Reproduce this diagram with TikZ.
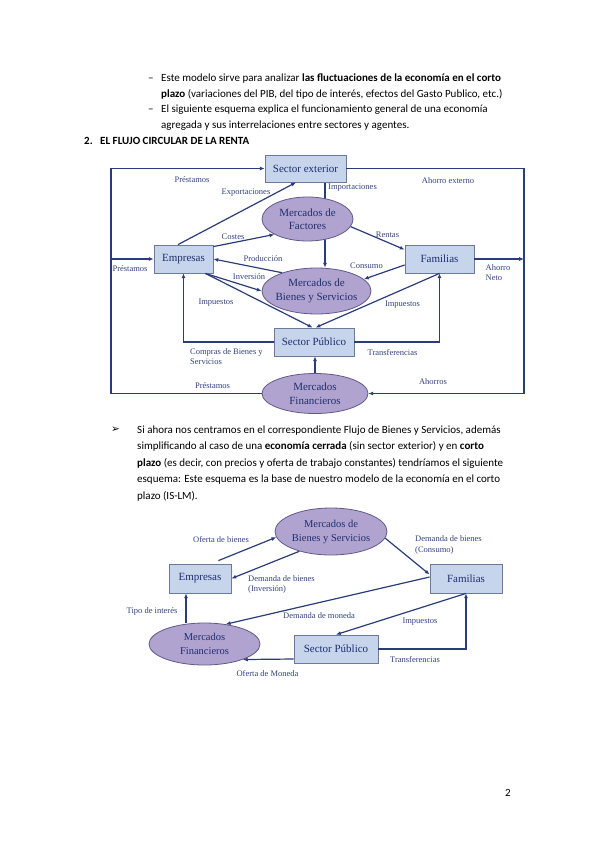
\documentclass[tikz,border=0pt]{standalone}
\usepackage{fontspec}
\setmainfont{Carlito}
\newfontfamily\tnr{Liberation Serif}
\newfontfamily\djv{DejaVu Sans}
\usetikzlibrary{shapes.geometric,arrows.meta}
\pgfdeclarelayer{back}
\pgfdeclarelayer{bg}
\pgfsetlayers{back,bg,main}
\definecolor{linecol}{HTML}{2A3D7A}
\definecolor{labcol}{HTML}{34437F}
\definecolor{boxfill}{HTML}{C6D5EC}
\definecolor{boxdraw}{HTML}{6B7A99}
\definecolor{ellfill}{HTML}{B1A3CF}
\definecolor{elldraw}{HTML}{5F5A8C}
\definecolor{nodetext}{HTML}{1F2F6F}
\tikzset{
  box/.style={draw=boxdraw, fill=boxfill, line width=0.8pt, rectangle, inner sep=0pt,
    font=\tnr\fontsize{11}{13}\selectfont, text=nodetext},
  ell/.style={draw=elldraw, fill=ellfill, line width=0.8pt, ellipse, inner sep=0pt},
  elltext/.style={inner sep=0pt, align=center, font=\tnr\fontsize{11}{13.5}\selectfont, text=nodetext},
  arr/.style={draw=linecol, line width=1.2pt, -{Latex[length=4.8pt,width=4pt]}},
  lab/.style={inner sep=0pt, font=\tnr\fontsize{8.5}{10.7}\selectfont, text=labcol},
  labl/.style={lab, anchor=west, align=left},
  body/.style={anchor=base west, inner sep=0pt, font=\fontsize{11}{13}\selectfont}
}
\begin{document}
\begin{tikzpicture}[x=1pt,y=-1pt]
\begin{pgfonlayer}{back}
\fill[white] (0,0) rectangle (599,848);
\end{pgfonlayer}
\path[use as bounding box] (0,0) rectangle (599,848);

% ---------- top text ----------
\node[body] (t1d) at (148,82) {–};
\node[body] (t1) at (161,82) {Este modelo sirve para analizar \textbf{las fluctuaciones de la economía en el corto}};
\node[body] (t2) at (161,97.5) {\textbf{plazo} (variaciones del PIB, del tipo de interés, efectos del Gasto Publico, etc.)};
\node[body] (t3d) at (148,113) {–};
\node[body] (t3) at (161,113) {El siguiente esquema explica el funcionamiento general de una economía};
\node[body] (t4) at (161,128.5) {agregada y sus interrelaciones entre sectores y agentes.};
\node[body] (h1) at (84,144) {\textbf{2.}};
\node[body] (h2) at (100,144) {\textbf{EL FLUJO CIRCULAR DE LA RENTA}};

% ---------- diagram 1 ----------
\node[box, minimum width=81pt, minimum height=27pt] (secext) at (305.5,168.5) {Sector exterior};
\node[ell, minimum width=91pt, minimum height=44pt] (fact) at (307.5,219) {};
\node[elltext] (factt) at (fact) {Mercados de\\Factores};
\node[ell, minimum width=109pt, minimum height=46pt] (bien1) at (316.5,291) {};
\node[elltext] (bien1t) at (bien1) {Mercados de\\Bienes y Servicios};
\node[box, minimum width=80pt, minimum height=28pt] (sp1) at (314,342) {Sector Público};
\node[ell, minimum width=106pt, minimum height=40pt] (fin1) at (315,393.5) {};
\node[elltext] (fin1t) at (fin1) {Mercados\\Financieros};
\node[box, minimum width=59pt, minimum height=28pt] (emp1) at (183.5,259) {Empresas};
\node[box, minimum width=69pt, minimum height=28pt] (fam1) at (439.5,259) {Familias};
\coordinate (lft) at (111,0);
\coordinate (rgt) at (524,0);
\coordinate (impx) at ([xshift=19.5pt]secext.south);

\begin{pgfonlayer}{bg}
\draw[arr] (impx) -- (impx |- bien1.north);
\end{pgfonlayer}
\draw[arr] (fin1.west) -- (fin1.west -| lft) -- (secext.west -| lft) -- (secext.west);
\draw[arr] (secext.east) -- (secext.east -| rgt) -- (fin1.east -| rgt) -- (fin1.east);
\draw[arr] (emp1.west -| lft) -- (emp1.west);
\draw[arr] (fam1.east) -- (fam1.east -| rgt);
\draw[arr] ([xshift=-5.5pt]emp1.north) -- ([xshift=-9.5pt]secext.south);
\draw[arr] ([yshift=-2pt]emp1.north east) -- (fact.205);
\draw[arr] (bien1.152) -- (emp1.east);
\draw[arr] ([xshift=-8pt]emp1.south east) -- (bien1.west);
\draw[arr] ([xshift=-8pt]emp1.south east) -- ([xshift=-1.5pt]sp1.north);
\draw[arr] (fam1.south) -- ([xshift=1.5pt]sp1.north);
\draw[arr] (sp1.west) -| (emp1.south);
\draw[arr] (sp1.east) -| (fam1.south);
\draw[arr] (fin1.north) -- (fin1.north |- sp1.south);
\draw[arr] (fact.350) -- ([yshift=-5pt]fam1.north west);
\draw[arr] ([yshift=-6pt]fam1.west) -- (bien1.14);

\node[lab] (lb1) at (192,180) {Préstamos};
\node[lab] (lb2) at (246,193) {Exportaciones};
\node[lab] (lb3) at (352.5,188) {Importaciones};
\node[lab] (lb4) at (448,181) {Ahorro externo};
\node[lab] (lb5) at (233,237) {Costes};
\node[lab] (lb6) at (263,259) {Producción};
\node[lab] (lb7) at (249,276.5) {Inversión};
\node[lab] (lb8) at (130,269) {Préstamos};
\node[lab] (lb9) at (216,302.5) {Impuestos};
\node[labl] (lb10) at (190,356.5) {Compras de Bienes y\\Servicios};
\node[lab] (lb11) at (212.5,386) {Préstamos};
\node[lab] (lb12) at (387.5,235) {Rentas};
\node[lab] (lb13) at (366.5,265.5) {Consumo};
\node[labl] (lb14) at (485.5,272.5) {Ahorro\\Neto};
\node[lab] (lb15) at (402.5,305) {Impuestos};
\node[lab] (lb16) at (392.5,352.5) {Transferencias};
\node[lab] (lb17) at (433,381.5) {Ahorros};

% ---------- second text ----------
\node[body, font=\djv\fontsize{10.5}{12}\selectfont] (bul) at (111,432.5) {➢};
\node[body] (p1) at (137,433) {Si ahora nos centramos en el correspondiente Flujo de Bienes y Servicios, además};
\node[body] (p2) at (137,449.5) {simplificando al caso de una \textbf{economía cerrada} (sin sector exterior) y en \textbf{corto}};
\node[body] (p3) at (137,466) {\textbf{plazo} (es decir, con precios y oferta de trabajo constantes) tendríamos el siguiente};
\node[body] (p4) at (137,482.5) {esquema: Este esquema es la base de nuestro modelo de la economía en el corto};
\node[body] (p5) at (137,499) {plazo (IS-LM).};

% ---------- diagram 2 ----------
\node[ell, minimum width=112pt, minimum height=47pt] (bien2) at (331,531.5) {};
\node[elltext, font=\tnr\fontsize{10.5}{14}\selectfont] (bien2t) at (bien2) {Mercados de\\Bienes y Servicios};
\node[box, minimum width=62pt, minimum height=29pt] (emp2) at (200,578.5) {Empresas};
\node[box, minimum width=72pt, minimum height=29pt] (fam2) at (466,578.5) {Familias};
\node[ell, minimum width=111pt, minimum height=42pt] (fin2) at (204.5,644) {};
\node[elltext, font=\tnr\fontsize{10.5}{14}\selectfont] (fin2t) at (fin2) {Mercados\\Financieros};
\node[box, minimum width=84pt, minimum height=28pt] (sp2) at (336,649) {Sector Público};
\coordinate (tix) at ([xshift=-14pt]emp2.south);

\draw[arr] ([xshift=-13pt,yshift=3pt]emp2.north east) -- (bien2.186);
\draw[arr] (bien2.212) -- (emp2.east);
\draw[arr] (bien2.353) -- ([yshift=4pt]fam2.west);
\draw[arr] ([yshift=1.5pt]fam2.west) -- (fin2.43);
\draw[arr] (fam2.south) -- (sp2.north);
\draw[arr] (sp2.east) -| (fam2.south);
\draw[arr] ([yshift=-10pt]sp2.west) -- (fin2.338);
\draw[arr] (tix |- fin2.north) -- (tix);

\node[lab] (m1) at (221,539.5) {Oferta de bienes};
\node[labl] (m2) at (248,584.5) {Demanda de bienes\\(Inversión)};
\node[labl] (m3) at (415,545) {Demanda de bienes\\(Consumo)};
\node[lab] (m4) at (319,615.5) {Demanda de moneda};
\node[lab] (m5) at (420,621.5) {Impuestos};
\node[lab] (m6) at (415,659.5) {Transferencias};
\node[lab] (m7) at (267.5,674) {Oferta de Moneda};
\node[lab] (m8) at (152,611.5) {Tipo de interés};

\node[body] (pg) at (505,796) {2};
\end{tikzpicture}
\end{document}
